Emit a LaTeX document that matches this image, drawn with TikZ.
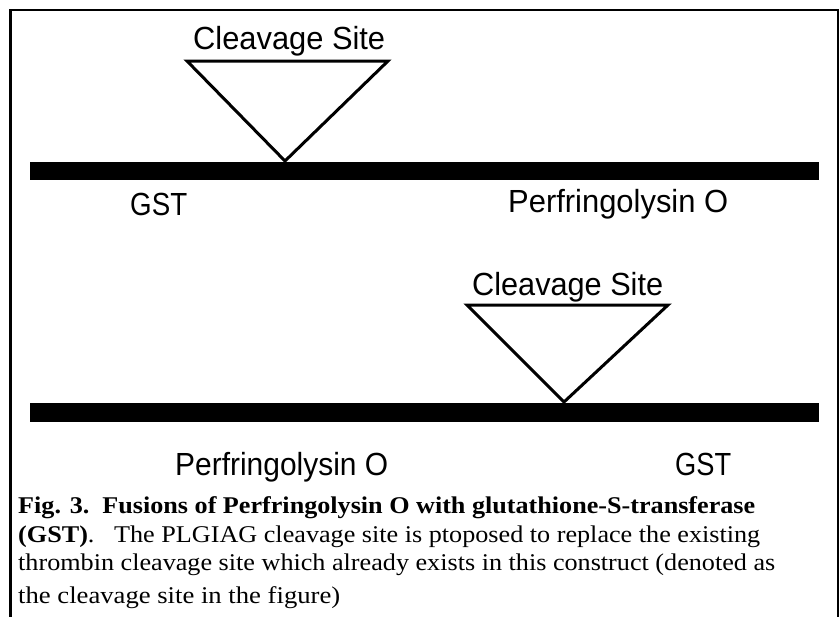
\documentclass[tikz,border=0pt]{standalone}
\usepackage{fontspec}
\setmainfont{Liberation Serif}
\setsansfont{Liberation Sans}
\usepackage{graphicx}
\newcommand{\fitw}[2]{\resizebox{#1}{\height}{#2}}
\tikzset{
  lbltext/.style={inner sep=0pt, anchor=base west, font=\sffamily\fontsize{32}{32}\selectfont},
  captext/.style={inner sep=0pt, anchor=base west, font=\rmfamily\fontsize{24}{24}\selectfont},
  barfill/.style={fill=black, draw=none},
  triline/.style={draw=black, line width=3pt, line join=miter},
  frameline/.style={draw=black, line width=2.5pt}
}
\begin{document}
\begin{tikzpicture}[x=1pt,y=-1pt]
\useasboundingbox (0,0) rectangle (840,616);
% frame
\draw[frameline] (10.5,620) -- (10.5,10) -- (838,10) -- (838,620);
% top construct
\coordinate (b1w) at (30,162);
\coordinate (b1e) at (819,180);
\fill[barfill] (b1w) rectangle (b1e);
\coordinate (t1l) at (187,61);
\coordinate (t1r) at (388,61);
\coordinate (t1a) at (285,161);
\draw[triline] (t1l) -- (t1r) -- (t1a) -- cycle;
\node[lbltext] (cs1) at (193,49) {\fitw{192pt}{Cleavage Site}};
\node[lbltext] (gst1) at (130,215) {\fitw{57pt}{GST}};
\node[lbltext] (pfo1) at (508,212) {\fitw{220pt}{Perfringolysin O}};
% bottom construct
\coordinate (b2w) at (30,403);
\coordinate (b2e) at (819,422);
\fill[barfill] (b2w) rectangle (b2e);
\coordinate (t2l) at (467,305);
\coordinate (t2r) at (668,305);
\coordinate (t2a) at (564,402);
\draw[triline] (t2l) -- (t2r) -- (t2a) -- cycle;
\node[lbltext] (cs2) at (472,295) {\fitw{191pt}{Cleavage Site}};
\node[lbltext] (pfo2) at (175,475) {\fitw{213pt}{Perfringolysin O}};
\node[lbltext] (gst2) at (675,475) {\fitw{56pt}{GST}};
% caption
\node[captext] (c1) at (18,513) {\fitw{737pt}{\textbf{Fig. 3.\ \ Fusions of Perfringolysin O with glutathione-S-transferase}}};
\node[captext] (c2) at (18,542) {\fitw{742pt}{\textbf{(GST)}.\ \ \ The PLGIAG cleavage site is ptoposed to replace the existing}};
\node[captext] (c3) at (18,570) {\fitw{757pt}{thrombin cleavage site which already exists in this construct (denoted as}};
\node[captext] (c4) at (18,603) {\fitw{322pt}{the cleavage site in the figure)}};
\end{tikzpicture}
\end{document}
